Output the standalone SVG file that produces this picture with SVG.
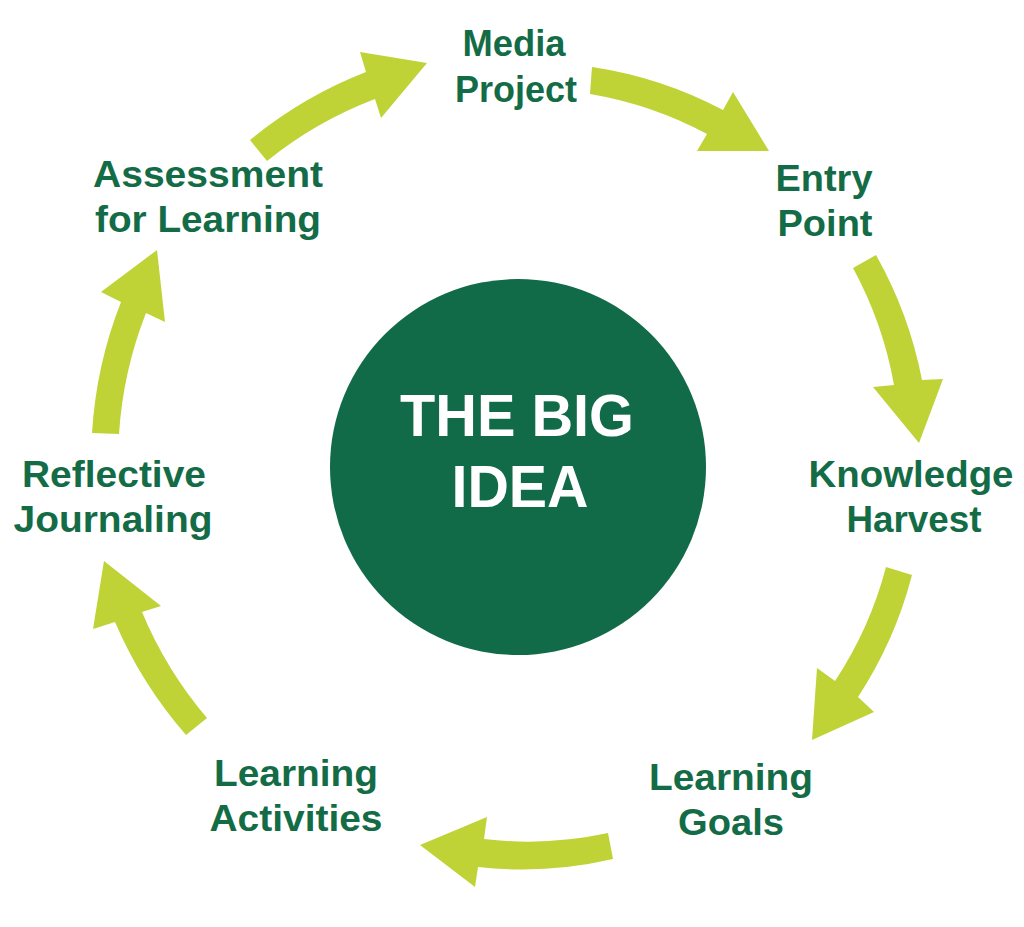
<svg xmlns="http://www.w3.org/2000/svg" width="1024" height="927" viewBox="0 0 1024 927">
<style>
.lbl{font-family:"Liberation Sans",Arial,sans-serif;font-weight:bold;font-size:36px;fill:#146C47;text-anchor:middle}
.big{font-family:"Liberation Sans",Arial,sans-serif;font-weight:bold;font-size:60px;fill:#ffffff;text-anchor:middle}
.arr{fill:#BFD336}
</style>
<rect width="1024" height="927" fill="#ffffff"/>
<g id="center">
<circle cx="518" cy="467" r="188" fill="#116A48"/>
<text class="big" x="517" y="436" textLength="234" lengthAdjust="spacingAndGlyphs">THE BIG</text>
<text class="big" x="520" y="507" textLength="137" lengthAdjust="spacingAndGlyphs">IDEA</text>
</g>
<g id="connectors">
<path class="arr" d="M 250,140 A 423 423 0 0 1 366,72 L 360,52 L 427,63 L 381,118 L 375,99 A 396 396 0 0 0 267,161 Z"/>
<path class="arr" d="M 592,67 A 410 410 0 0 1 723,110 L 733,92 L 769,151 L 697,151 L 707,134 A 382 382 0 0 0 590,94 Z"/>
<path class="arr" d="M 876,255 A 415 415 0 0 1 922,380 L 943,379 L 919,443 L 873,387 L 894,385 A 387 387 0 0 0 853,268 Z"/>
<path class="arr" d="M 912,575 A 409 409 0 0 1 858,697 L 874,712 L 812,740 L 817,668 L 835,681 A 382 382 0 0 0 886,567 Z"/>
<path class="arr" d="M 613,859 A 403 403 0 0 1 478,867 L 475,887 L 420,845 L 487,817 L 484,839 A 375 375 0 0 0 608,833 Z"/>
<path class="arr" d="M 186,735 A 428 428 0 0 1 115,622 L 93,629 L 104,561 L 161,606 L 142,612 A 402 402 0 0 0 207,718 Z"/>
<path class="arr" d="M 92,433 A 429 429 0 0 1 121,302 L 101,292 L 157,250 L 165,322 L 146,313 A 401 401 0 0 0 119,434 Z"/>
</g>
<g id="media-project">
<text class="lbl" x="514" y="56" textLength="103" lengthAdjust="spacingAndGlyphs">Media</text>
<text class="lbl" x="516" y="102" textLength="122" lengthAdjust="spacingAndGlyphs">Project</text>
</g>
<g id="entry-point">
<text class="lbl" x="824" y="191" textLength="97" lengthAdjust="spacingAndGlyphs">Entry</text>
<text class="lbl" x="825" y="236" textLength="95" lengthAdjust="spacingAndGlyphs">Point</text>
</g>
<g id="knowledge-harvest">
<text class="lbl" x="911" y="487" textLength="205" lengthAdjust="spacingAndGlyphs">Knowledge</text>
<text class="lbl" x="914" y="532" textLength="135" lengthAdjust="spacingAndGlyphs">Harvest</text>
</g>
<g id="learning-goals">
<text class="lbl" x="731" y="790" textLength="164" lengthAdjust="spacingAndGlyphs">Learning</text>
<text class="lbl" x="731" y="835" textLength="106" lengthAdjust="spacingAndGlyphs">Goals</text>
</g>
<g id="learning-activities">
<text class="lbl" x="296" y="786" textLength="164" lengthAdjust="spacingAndGlyphs">Learning</text>
<text class="lbl" x="296" y="831" textLength="173" lengthAdjust="spacingAndGlyphs">Activities</text>
</g>
<g id="reflective-journaling">
<text class="lbl" x="114" y="487" textLength="184" lengthAdjust="spacingAndGlyphs">Reflective</text>
<text class="lbl" x="113" y="532" textLength="199" lengthAdjust="spacingAndGlyphs">Journaling</text>
</g>
<g id="assessment-for-learning">
<text class="lbl" x="208" y="187" textLength="230" lengthAdjust="spacingAndGlyphs">Assessment</text>
<text class="lbl" x="208" y="232" textLength="226" lengthAdjust="spacingAndGlyphs">for Learning</text>
</g>
</svg>
